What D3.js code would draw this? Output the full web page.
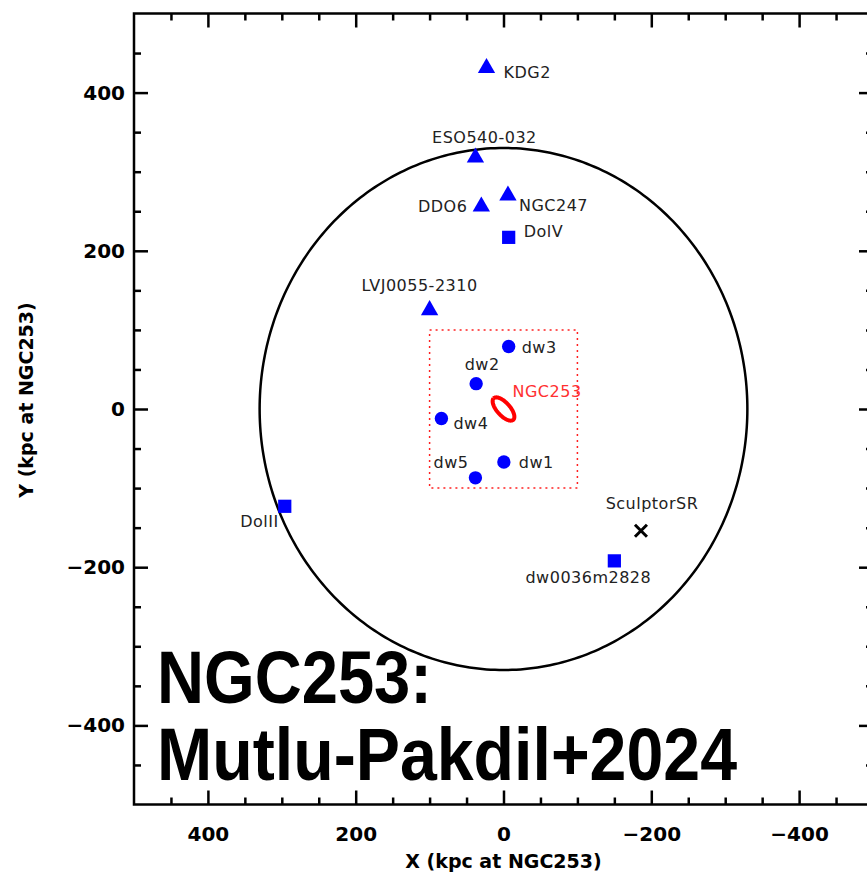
<!DOCTYPE html>
<html lang="en">

<head>
	<meta charset="UTF-8">
	<title>NGC253 satellites</title>
	<script type="text/javascript" src="https://cdn.jsdelivr.net/npm/d3@7/dist/d3.min.js" charset="UTF-8"></script>
	<style>
		body { margin: 0; background: #fff; }
		svg { display: block; }
	</style>
</head>

<body>
	<script>
	// satellites around NGC253 (kpc, projected)
	var names = ['KDG2', 'ESO540-032', 'DDO6', 'NGC247', 'DolV', 'LVJ0055-2310',
		'dw3', 'dw2', 'dw4', 'dw1', 'dw5', 'DolII', 'dw0036m2828', 'SculptorSR'];
	var xKpc = [23, 38, 30, -6, -7, 100, -7, 37, 84, -0.5, 38, 296, -150, -186];
	var yKpc = [431, 318, 256, 270, 217, 125, 79, 32, -12, -67, -87, -123, -192, -154];
	var kinds = ['triangle', 'triangle', 'triangle', 'triangle', 'square', 'triangle',
		'circle', 'circle', 'circle', 'circle', 'circle', 'square', 'square', 'cross'];

	var xMajor = [400, 200, 0, -200, -400];
	var xMinor = [450, 350, 300, 250, 150, 100, 50, -50, -100, -150, -250, -300, -350, -450];
	var yMajor = [400, 200, 0, -200, -400];
	var yMinor = [450, 350, 300, 250, 150, 100, 50, -50, -100, -150, -250, -300, -350, -450];

	var virialRadius = 330;
	var innerBox = 100;
	var hostDisk = { a: 19, b: 8.5, angle: 45 };

	// label placement (pixels relative to marker)
	var labelPos = {
		'KDG2': [17, 10, 'start'],
		'ESO540-032': [9, -14, 'middle'],
		'DDO6': [-14, 5, 'end'],
		'NGC247': [11, 16, 'start'],
		'DolV': [15, 0, 'start'],
		'LVJ0055-2310': [-10, -19, 'middle'],
		'dw3': [13, 6, 'start'],
		'dw2': [6, -14, 'middle'],
		'dw4': [12, 11, 'start'],
		'dw1': [15, 6, 'start'],
		'dw5': [-7, -10, 'end'],
		'DolII': [-6, 21, 'end'],
		'dw0036m2828': [-26, 22, 'middle'],
		'SculptorSR': [11, -22, 'middle']
	};

	var width = 867,
		height = 879;

	var svg = d3.select('body').append('svg')
		.attr('width', width)
		.attr('height', height);

	var xScale = d3.scaleLinear()
		.domain([500, -500])
		.range([134, 873]);
	var yScale = d3.scaleLinear()
		.domain([-500, 500])
		.range([804.5, 13.5]);

	var fmt = d => d < 0 ? '\u2212' + Math.abs(d) : String(d);

	function drawAxes() {
		var x0 = xScale.range()[0], x1 = xScale.range()[1];
		var y0 = yScale.range()[0], y1 = yScale.range()[1];

		var axes = [
			[d3.axisBottom(xScale).tickValues(xMajor).tickSize(-14).tickPadding(22).tickFormat(fmt), `translate(0,${y0})`],
			[d3.axisBottom(xScale).tickValues(xMinor).tickSize(-7).tickFormat(''), `translate(0,${y0})`],
			[d3.axisTop(xScale).tickValues(xMajor).tickSize(-14).tickFormat(''), `translate(0,${y1})`],
			[d3.axisTop(xScale).tickValues(xMinor).tickSize(-7).tickFormat(''), `translate(0,${y1})`],
			[d3.axisLeft(yScale).tickValues(yMajor).tickSize(-14).tickPadding(9).tickFormat(fmt), `translate(${x0},0)`],
			[d3.axisLeft(yScale).tickValues(yMinor).tickSize(-7).tickFormat(''), `translate(${x0},0)`],
			[d3.axisRight(yScale).tickValues(yMajor).tickSize(-14).tickFormat(''), `translate(${x1},0)`],
			[d3.axisRight(yScale).tickValues(yMinor).tickSize(-7).tickFormat(''), `translate(${x1},0)`]
		];

		axes.forEach(function (a) {
			var g = svg.append('g')
				.attr('transform', a[1])
				.call(a[0]);
			g.select('.domain').remove();
			g.selectAll('line').attr('stroke', '#000').attr('stroke-width', 2.5);
			g.selectAll('text')
				.attr('fill', '#000')
				.style('font-family', 'DejaVu Sans, sans-serif')
				.style('font-size', '20px')
				.style('font-weight', 'bold');
		});

		svg.append('rect')
			.attr('x', x0)
			.attr('y', y1)
			.attr('width', x1 - x0)
			.attr('height', y0 - y1)
			.attr('fill', 'none')
			.attr('stroke', '#000')
			.attr('stroke-width', 2.5);

		svg.append('text')
			.attr('x', xScale(0))
			.attr('y', 868)
			.attr('text-anchor', 'middle')
			.style('font-family', 'DejaVu Sans, sans-serif')
			.style('font-size', '19px')
			.style('font-weight', 'bold')
			.text('X (kpc at NGC253)');

		svg.append('text')
			.attr('transform', 'translate(33,400) rotate(-90)')
			.attr('text-anchor', 'middle')
			.style('font-family', 'DejaVu Sans, sans-serif')
			.style('font-size', '19px')
			.style('font-weight', 'bold')
			.text('Y (kpc at NGC253)');
	}

	function drawShapes() {
		var line = d3.line()
			.x(d => xScale(d[0]))
			.y(d => yScale(d[1]));

		// virial circle
		var circ = d3.range(0, 361, 1).map(function (t) {
			var r = t * Math.PI / 180;
			return [virialRadius * Math.cos(r), virialRadius * Math.sin(r)];
		});
		svg.append('path')
			.attr('d', line(circ))
			.attr('fill', 'none')
			.attr('stroke', '#000')
			.attr('stroke-width', 2.5);

		// inner survey box
		svg.append('rect')
			.attr('x', xScale(innerBox))
			.attr('y', yScale(innerBox))
			.attr('width', xScale(-innerBox) - xScale(innerBox))
			.attr('height', yScale(-innerBox) - yScale(innerBox))
			.attr('fill', 'none')
			.attr('stroke', '#ff2020')
			.attr('stroke-width', 1.5)
			.attr('stroke-dasharray', '2,4');

		// host disk
		var th = hostDisk.angle * Math.PI / 180;
		var disk = d3.range(0, 361, 5).map(function (t) {
			var r = t * Math.PI / 180;
			var u = hostDisk.a * Math.cos(r), v = hostDisk.b * Math.sin(r);
			return [u * Math.cos(th) - v * Math.sin(th), u * Math.sin(th) + v * Math.cos(th)];
		});
		svg.append('path')
			.attr('d', line(disk))
			.attr('fill', 'none')
			.attr('stroke', '#ff0000')
			.attr('stroke-width', 4);

		svg.append('text')
			.attr('x', xScale(0) + 9)
			.attr('y', yScale(0) - 12)
			.attr('fill', '#ff3030')
			.style('font-family', 'DejaVu Sans, sans-serif')
			.style('font-size', '16px')
			.style('letter-spacing', '0.5px')
			.text('NGC253');
	}

	function drawSatellites() {
		var symbols = {
			triangle: d3.symbol().type(d3.symbolTriangle).size(130),
			square: d3.symbol().type(d3.symbolSquare).size(175),
			circle: d3.symbol().type(d3.symbolCircle).size(140)
		};

		var sats = names.map((n, i) => ({ name: n, x: xKpc[i], y: yKpc[i], kind: kinds[i] }));

		var g = svg.append('g');
		sats.forEach(function (d) {
			var px = xScale(d.x), py = yScale(d.y);
			if (d.kind === 'cross') {
				g.append('path')
					.attr('d', `M${px - 6},${py - 6}L${px + 6},${py + 6}M${px + 6},${py - 6}L${px - 6},${py + 6}`)
					.attr('stroke', '#000')
					.attr('stroke-width', 3);
			} else {
				g.append('path')
					.attr('transform', `translate(${px},${py})`)
					.attr('d', symbols[d.kind]())
					.attr('fill', '#0000ff');
			}
			var lp = labelPos[d.name];
			g.append('text')
				.attr('x', px + lp[0])
				.attr('y', py + lp[1])
				.attr('text-anchor', lp[2])
				.attr('fill', '#222')
				.style('font-family', 'DejaVu Sans, sans-serif')
				.style('font-size', '16px')
				.style('letter-spacing', '0.5px')
				.text(d.name);
		});
	}

	function drawTitle() {
		var t = svg.append('g')
			.style('font-family', 'Liberation Sans, Arial, sans-serif')
			.style('font-weight', 'bold')
			.style('font-size', '74px');
		t.append('text')
			.attr('x', 157)
			.attr('y', 703)
			.attr('textLength', 275)
			.attr('lengthAdjust', 'spacingAndGlyphs')
			.text('NGC253:');
		t.append('text')
			.attr('x', 157)
			.attr('y', 780)
			.attr('textLength', 580)
			.attr('lengthAdjust', 'spacingAndGlyphs')
			.text('Mutlu-Pakdil+2024');
	}

	drawShapes();
	drawSatellites();
	drawTitle();
	drawAxes();
	</script>

</body>

</html>
